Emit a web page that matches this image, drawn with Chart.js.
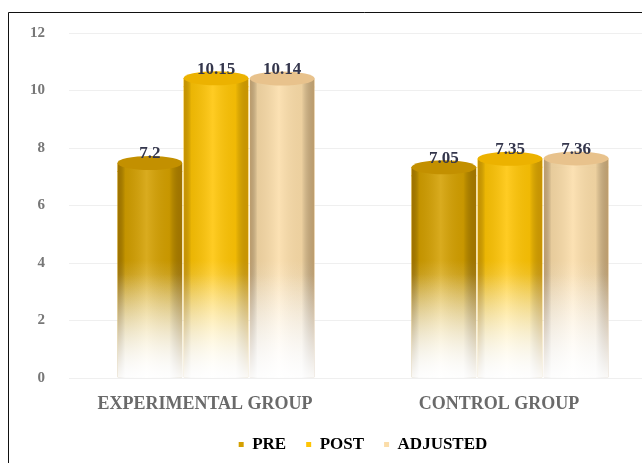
<!DOCTYPE html>
<html><head><meta charset="utf-8">
<script src="https://cdn.jsdelivr.net/npm/chart.js@4/dist/chart.umd.min.js"></script>
<style>html,body{margin:0;padding:0;background:#fff;overflow:hidden;}#wrap{position:relative;width:642px;height:463px;overflow:hidden;}canvas{position:absolute;left:0;top:0;}</style>
</head><body><div id="wrap"><canvas id="c" width="720" height="463"></canvas></div>
<script>
const categories = ["EXPERIMENTAL GROUP", "CONTROL GROUP"];
const seriesNames = ["PRE", "POST", "ADJUSTED"];
const preValues = [7.2, 7.05];
const postValues = [10.15, 7.35];
const adjustedValues = [10.14, 7.36];
const valueLabels = [["7.2", "7.05"], ["10.15", "7.35"], ["10.14", "7.36"]];
const yTicks = [0, 2, 4, 6, 8, 10, 12];

const baseColors = ["#D4A000", "#FFC505", "#FBDDA9"];
const capColors = ["#C39000", "#ECB200", "#E8C28C"];
const edgeColors = ["rgba(120,80,0,0.55)", "rgba(150,100,0,0.5)", "rgba(140,105,60,0.55)"];
const FONT = "'Liberation Serif', 'Times New Roman', serif";
const DEPTH = 8;

function vGrad(ctx, color) {
  const chart = ctx.chart, area = chart.chartArea;
  if (!area) return color;
  const g = chart.ctx.createLinearGradient(0, area.top, 0, area.bottom);
  g.addColorStop(0, color);
  g.addColorStop(0.66, color);
  g.addColorStop(1, "rgba(255,255,255,1)");
  return g;
}

const cylinderPlugin = {
  id: "cyl",
  beforeDraw(chart) {
    const c = chart.ctx;
    c.save();
    c.fillStyle = "#fff";
    c.fillRect(0, 0, chart.width, chart.height);
    c.strokeStyle = "#111";
    c.lineWidth = 1;
    c.beginPath();
    c.moveTo(8.5, chart.height);
    c.lineTo(8.5, 12.5);
    c.lineTo(chart.width, 12.5);
    c.stroke();
    c.restore();
  },
  afterDatasetsDraw(chart) {
    const c = chart.ctx, area = chart.chartArea;
    chart.data.datasets.forEach((ds, di) => {
      const meta = chart.getDatasetMeta(di);
      meta.data.forEach((bar, i) => {
        const x0 = bar.x - bar.width / 2, w = bar.width;
        const top = bar.y - DEPTH, bottom = bar.base;
        c.save();
        c.fillStyle = baseColors[di];
        c.fillRect(x0, top, w, DEPTH + 1);
        c.beginPath();
        c.rect(x0, top, w, bottom - top);
        c.clip();
        const hg = c.createLinearGradient(x0, 0, x0 + w, 0);
        hg.addColorStop(0, edgeColors[di]);
        hg.addColorStop(0.12, "rgba(0,0,0,0.08)");
        hg.addColorStop(0.45, "rgba(255,255,255,0.12)");
        hg.addColorStop(0.8, "rgba(0,0,0,0.06)");
        hg.addColorStop(1, edgeColors[di]);
        c.fillStyle = hg;
        c.fillRect(x0, top, w, bottom - top);
        const fg = c.createLinearGradient(0, area.top, 0, bottom);
        fg.addColorStop(0, "rgba(255,255,255,0)");
        fg.addColorStop(0.7, "rgba(255,255,255,0)");
        fg.addColorStop(1, "rgba(255,255,255,0.92)");
        c.fillStyle = fg;
        c.fillRect(x0, top, w, bottom - top);
        c.restore();
        c.save();
        c.beginPath();
        c.ellipse(bar.x, top, w / 2, 7, 0, 0, Math.PI * 2);
        c.fillStyle = capColors[di];
        c.fill();
        c.restore();
        c.save();
        c.font = "bold 17px " + FONT;
        c.fillStyle = "#34364C";
        c.textAlign = "center";
        c.textBaseline = "middle";
        c.fillText(valueLabels[di][i], bar.x, top - 9);
        c.restore();
      });
    });
  }
};

const chart = new Chart(document.getElementById("c"), {
  type: "bar",
  data: {
    labels: categories,
    datasets: [
      { label: seriesNames[0], data: preValues, backgroundColor: (ctx) => vGrad(ctx, baseColors[0]) },
      { label: seriesNames[1], data: postValues, backgroundColor: (ctx) => vGrad(ctx, baseColors[1]) },
      { label: seriesNames[2], data: adjustedValues, backgroundColor: (ctx) => vGrad(ctx, baseColors[2]) }
    ]
  },
  options: {
    responsive: false,
    animation: false,
    devicePixelRatio: 1,
    layout: { padding: { top: 27, right: 63, left: 0, bottom: 0 } },
    datasets: { bar: { categoryPercentage: 0.675, barPercentage: 0.98, borderWidth: 0 } },
    scales: {
      x: {
        afterFit(scale) { scale.height = 38; },
        grid: { display: false, drawTicks: false },
        border: { display: false },
        ticks: { color: "#6a6a6a", font: { family: FONT, size: 18, weight: "bold" }, padding: 16, labelOffset: -11 }
      },
      y: {
        min: 0, max: 12,
        afterFit(scale) { scale.width = 69; },
        afterBuildTicks(scale) { scale.ticks = yTicks.map(v => ({ value: v })); },
        grid: { color: "#efefef", drawTicks: false },
        border: { display: false },
        ticks: { color: "#777777", font: { family: FONT, size: 15, weight: "bold" }, padding: 24 }
      }
    },
    plugins: {
      legend: {
        position: "bottom",
        fullSize: false,
        labels: {
          boxWidth: 5, boxHeight: 5, padding: 20,
          color: "#5c5e70",
          font: { family: FONT, size: 17, weight: "bold" },
          generateLabels(chart) {
            return chart.data.datasets.map((ds, i) => ({
              text: ds.label, fillStyle: baseColors[i], strokeStyle: baseColors[i], lineWidth: 0, datasetIndex: i, hidden: false
            }));
          }
        }
      },
      tooltip: { enabled: false }
    }
  },
  plugins: [cylinderPlugin]
});
</script></body></html>
